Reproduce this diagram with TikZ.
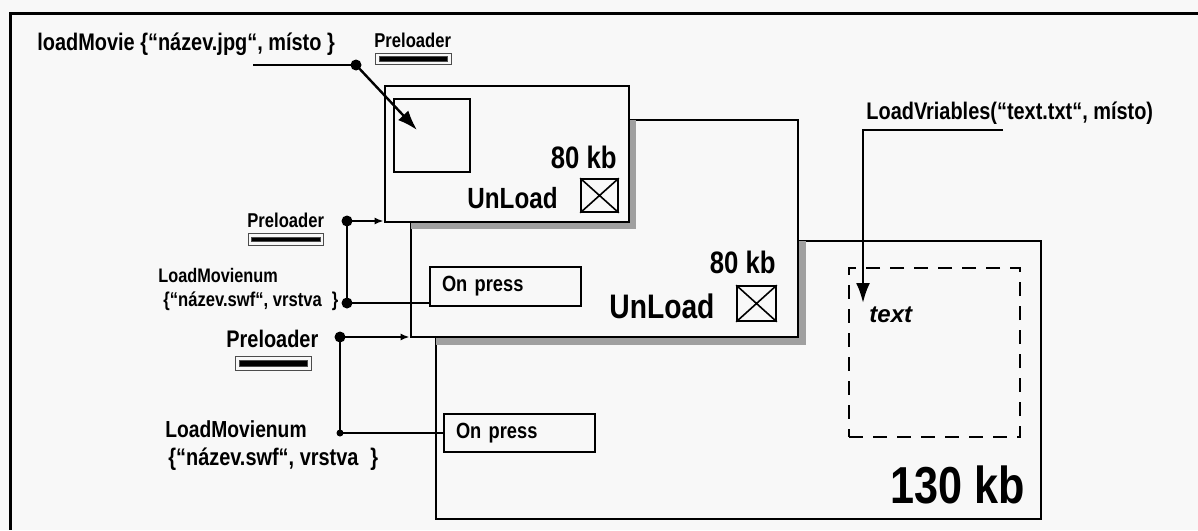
\documentclass[tikz,border=0pt]{standalone}
\usepackage{fontspec}
\setmainfont{Liberation Sans}[FakeStretch=0.83]
\newfontfamily\widesans{Liberation Sans}
\usepackage{tikz}
\usetikzlibrary{arrows.meta,positioning}
\definecolor{paper}{HTML}{F8F8F8}
\definecolor{dropgray}{HTML}{A0A0A0}

\begin{document}
\begin{tikzpicture}[
  x=0.5pt, y=-0.5pt,
  lbl/.style={font=\bfseries\fontsize{#1}{#1}\selectfont, inner sep=0pt, anchor=base west},
  rlbl/.style={font=\bfseries\fontsize{#1}{#1}\selectfont, inner sep=0pt, anchor=base east},
  box/.style={draw=black, line width=1.4pt, fill=paper, inner sep=0pt},
  pressbox/.style={draw=black, line width=1.2pt, fill=paper, minimum width=75.5pt, minimum height=19.5pt,
    text width=63.5pt, inner xsep=6pt, align=left, font=\bfseries\fontsize{11}{11}\selectfont},
  chk/.style={draw=black, line width=0.8pt, inner sep=0pt},
  bar/.style={fill=black, draw=black!70, line width=0.5pt, double=paper, double distance=1.4pt,
    minimum width=36pt, minimum height=4pt, inner sep=0pt},
  dot/.style={circle, fill=black, inner sep=0pt, minimum size=5.5pt},
  wire/.style={line width=1.2pt},
  arr/.style={-{Latex[length=10pt, width=7pt]}, line width=1.2pt},
  arrs/.style={-{Latex[length=4.5pt, width=3.5pt]}, line width=1.2pt}
]
\useasboundingbox (0,0) rectangle (1198,530);
\fill[paper] (0,0) rectangle (1198,530);
\draw[line width=1.5pt] (1198,13) -- (10,13) -- (10,530);

% stacked movie boxes
\node[box, minimum width=302.5pt, minimum height=139pt] (boxC) at (738.5,380) {};
\node[box, minimum width=193.5pt, minimum height=108.5pt] (boxB) at (604.5,228.5) {};
\begin{scope}
  \clip ([shift={(1.5,1.5)}]boxC.north west) rectangle ([shift={(-1.5,-1.5)}]boxC.south east);
  \fill[dropgray] ([shift={(7,7)}]boxB.north west) rectangle ([shift={(7,7)}]boxB.south east);
\end{scope}
\node[box, minimum width=193.5pt, minimum height=108.5pt] at (boxB) {};
\begin{scope}
  \clip ([shift={(1.5,1.5)}]boxB.north west) rectangle ([shift={(-1.5,-1.5)}]boxB.south east);
  \fill[dropgray] (392,93) rectangle (636,229);
\end{scope}
\node[box, minimum width=122pt, minimum height=68pt] (boxA) at (507,154) {};

% box A
\node[box, line width=1.2pt, minimum width=38pt, minimum height=36.5pt] (slot) at (432,135.5) {};
\node[rlbl=15.5] (kbA) at (617,168) {80 kb};
\node[lbl=14.6] (unA) at (467,208) {UnLoad};
\node[chk, minimum width=18.5pt, minimum height=16.5pt] (cbA) at (599.5,195.5) {};
\draw[line width=0.8pt] (cbA.north west) -- (cbA.south east) (cbA.north east) -- (cbA.south west);

% box B
\node[pressbox] (pressA) at (505.5,286.5) {On press};
\node[rlbl=15.5] (kbB) at (776,273) {80 kb};
\node[lbl=17] (unB) at (609,318) {UnLoad};
\node[chk, minimum width=19.5pt, minimum height=17.5pt] (cbB) at (756.5,303.5) {};
\draw[line width=0.8pt] (cbB.north west) -- (cbB.south east) (cbB.north east) -- (cbB.south west);

% box C
\node[pressbox, minimum height=19pt] (pressB) at (519.5,433) {On press};
\node[draw=black, line width=1.2pt, dash pattern=on 7pt off 5pt, minimum width=85.5pt, minimum height=84.5pt] (txtbox) at (934.5,352.5) {};
\node[inner sep=0pt, anchor=base west, font=\widesans\bfseries\itshape\fontsize{12}{12}\selectfont] (txt) at (869,322) {text};
\node[rlbl=26] (kbC) at (1025,503) {130 kb};

% labels
\node[lbl=12] (loadMovie) at (37,50) {loadMovie \{“název.jpg“, místo \}};
\node[lbl=10] (pre1) at (374,47) {Preloader};
\node[bar] (bar1) at (413.5,59) {};
\node[lbl=12] (loadVar) at (866,119) {LoadVriables(“text.txt“, místo)};
\node[lbl=10] (pre2) at (247,227) {Preloader};
\node[bar] (bar2) at (286,239.5) {};
\node[lbl=9.8] (lmn1) at (158,282) {LoadMovienum};
\node[lbl=10] (lmn1b) at (163,306) {\{“název.swf“, vrstva\enspace\}};
\node[lbl=12] (pre3) at (226,347) {Preloader};
\node[bar, minimum height=5pt] (bar3) at (273.5,363.5) {};
\node[lbl=11.6] (lmn2) at (165,437) {LoadMovienum};
\node[lbl=12] (lmn2b) at (168,465) {\{“název.swf“, vrstva\enspace\}};

% connectors
\node[dot] (dotLM) at (356,65) {};
\coordinate (lmEnd) at (253,65);
\coordinate (lmTip) at (417,130);
\draw[wire] (lmEnd) -- (dotLM.center);
\draw[arr] (dotLM.center) -- (lmTip);

\node[dot] (dotP2) at (347,221) {};
\node[dot] (dotM1) at (347,303) {};
\draw[arrs] (dotP2.center) -- (dotP2 -| boxA.west);
\draw[wire] (dotP2.center) -- (dotM1.center) -- (dotM1 -| pressA.west);

\node[dot] (dotP3) at (340,337) {};
\node[dot, minimum size=3.5pt] (dotM2) at (340,433) {};
\draw[arrs] (dotP3.center) -- (dotP3 -| boxB.west);
\draw[wire] (dotP3.center) -- (dotM2.center) -- (pressB.west);

\coordinate (lvStart) at (1003,130);
\coordinate (lvTip) at (863,303);
\draw[arr] (lvStart) -| (lvTip);
\end{tikzpicture}
\end{document}
